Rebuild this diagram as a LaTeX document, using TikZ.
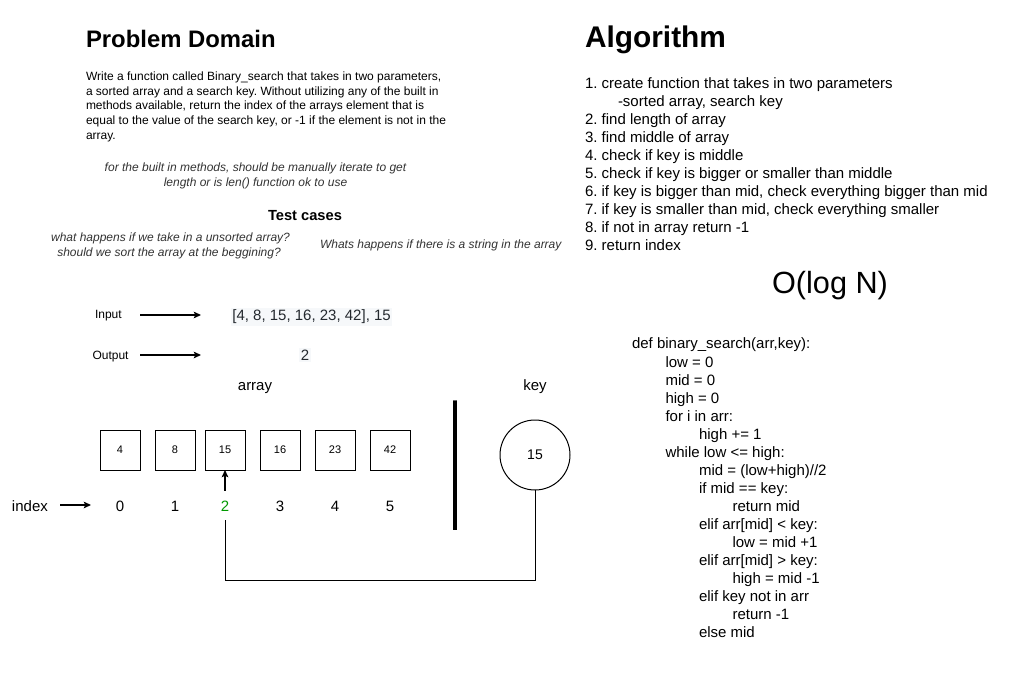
\documentclass[tikz,border=0pt]{standalone}
\usepackage{fontspec}
\setmainfont{Liberation Sans}
\usetikzlibrary{arrows.meta}
\frenchspacing
\definecolor{itx}{HTML}{333333}
\definecolor{codetx}{HTML}{24292E}
\definecolor{codebg}{HTML}{F6F8FA}
\definecolor{grn}{HTML}{009900}
\definecolor{baredge}{HTML}{666666}
\tikzset{
  tA/.style={font=\fontsize{8.25pt}{10pt}\selectfont},
  tB/.style={font=\fontsize{9pt}{11pt}\selectfont},
  tC/.style={font=\fontsize{10.5pt}{12.5pt}\selectfont},
  tD/.style={font=\fontsize{11.25pt}{13.5pt}\selectfont},
  itB/.style={font=\fontsize{9pt}{11pt}\selectfont\itshape, text=itx},
  hA/.style={font=\fontsize{17.9pt}{20pt}\selectfont\bfseries},
  hB/.style={font=\fontsize{22.4pt}{26pt}\selectfont\bfseries},
  hC/.style={font=\fontsize{11pt}{13pt}\selectfont\bfseries},
  big/.style={font=\fontsize{23pt}{27pt}\selectfont},
  lft/.style={anchor=base west},
  ctr/.style={anchor=base},
  cell/.style={draw, line width=0.75pt, minimum size=30pt, font=\fontsize{8.25pt}{10pt}\selectfont},
  keycirc/.style={draw, circle, line width=0.75pt, minimum size=52.5pt, font=\fontsize{10.5pt}{12.5pt}\selectfont},
  arr/.style={line width=0.9pt, -{Stealth[length=5.5pt,width=5pt,inset=1.2pt]}},
  wire/.style={line width=0.75pt},
}
\begin{document}
\begin{tikzpicture}[x=0.75pt,y=-0.75pt, every node/.style={inner sep=0pt, outer sep=0pt}]
\useasboundingbox[fill=white] (0,0) rectangle (1022,681);

% ---------- Problem domain ----------
\node[hA, lft] (pd) at (86,48) {Problem Domain};
\node[tB, lft] (p1) at (86,81) {Write a function called Binary\_search that takes in two parameters,};
\node[tB, lft] (p2) at (86,96) {a sorted array and a search key. Without utilizing any of the built in};
\node[tB, lft] (p3) at (86,110) {methods available, return the index of the arrays element that is};
\node[tB, lft] (p4) at (86,125) {equal to the value of the search key, or -1 if the element is not in the};
\node[tB, lft] (p5) at (86,140) {array.};

\node[itB, ctr] (q1) at (255.5,172) {for the built in methods, should be manually iterate to get};
\node[itB, ctr] (q2) at (255.5,187) {length or is len() function ok to use};

\node[hC, ctr] (tc) at (305,221) {Test cases};
\node[itB, ctr] (t1) at (170.5,242) {what happens if we take in a unsorted array?};
\node[itB, ctr] (t2) at (169,257) {should we sort the array at the beggining?};
\node[itB, lft] (t3) at (320,249) {Whats happens if there is a string in the array};

% ---------- Input / Output ----------
\node[tB, lft] (inp) at (95,319) {Input};
\node[tB, lft] (outp) at (92.5,359) {Output};
\coordinate (ia) at (140,315);
\coordinate (ib) at (201,315);
\coordinate (oa) at (140,355);
\coordinate (ob) at (201,355);
\draw[arr] (ia) -- (ib);
\draw[arr] (oa) -- (ob);
\node[tD, lft, text=codetx, fill=codebg, inner xsep=1pt, inner ysep=1.5pt] (inval) at (231,320.5) {[4, 8, 15, 16, 23, 42], 15};
\node[tD, ctr, text=codetx, fill=codebg, inner xsep=1pt, inner ysep=1.5pt] (outval) at (305,360) {2};

% ---------- Array ----------
\node[tD, ctr] (arrlbl) at (255,390) {array};
\node[tD, ctr] (keylbl) at (535,390) {key};

\node[cell] (b1) at (120,450) {4};
\node[cell] (b2) at (175,450) {8};
\node[cell] (b3) at (225,450) {15};
\node[cell] (b4) at (280,450) {16};
\node[cell] (b5) at (335,450) {23};
\node[cell] (b6) at (390,450) {42};

\node[tD, lft] (idx) at (12,511) {index};
\coordinate (xa) at (60,505);
\coordinate (xb) at (91,505);
\draw[arr] (xa) -- (xb);
\node[tD, ctr] (i0) at (120,511) {0};
\node[tD, ctr] (i1) at (175,511) {1};
\node[tD, ctr, text=grn] (i2) at (225,511) {2};
\node[tD, ctr] (i3) at (280,511) {3};
\node[tD, ctr] (i4) at (335,511) {4};
\node[tD, ctr] (i5) at (390,511) {5};

\draw[arr] ([yshift=7.5pt]i2.north) -- (b3.south);

% separator bar
\draw[line width=3.6pt, baredge] (455,400) -- (455,530);
\draw[line width=2.4pt, black] (455,400.5) -- (455,529.5);

\node[keycirc] (key) at (535,455) {15};
\coordinate (ret) at (225,520);
\coordinate (bend) at (535,580);
\draw[wire] (key.south) -- (bend) -| (ret);

% ---------- Algorithm ----------
\node[hB, lft] (alg) at (585,48) {Algorithm};
\node[tD, lft] (a1) at (585,89) {1. create function that takes in two parameters};
\node[tD, lft] (a1b) at (618,107) {-sorted array, search key};
\node[tD, lft] (a2) at (585,125) {2. find length of array};
\node[tD, lft] (a3) at (585,143) {3. find middle of array};
\node[tD, lft] (a4) at (585,161) {4. check if key is middle};
\node[tD, lft] (a5) at (585,179) {5. check if key is bigger or smaller than middle};
\node[tD, lft] (a6) at (585,197) {6. if key is bigger than mid, check everything bigger than mid};
\node[tD, lft] (a7) at (585,215) {7. if key is smaller than mid, check everything smaller};
\node[tD, lft] (a8) at (585,233) {8. if not in array return -1};
\node[tD, lft] (a9) at (585,251) {9. return index};

\node[big, ctr] (olog) at (830,294) {O(log N)};

% ---------- Code ----------
\node[tD, lft] (c1) at (632,349) {def binary\_search(arr,key):};
\node[tD, lft] (c2) at (665.5,367) {low = 0};
\node[tD, lft] (c3) at (665.5,385) {mid = 0};
\node[tD, lft] (c4) at (665.5,403) {high = 0};
\node[tD, lft] (c5) at (665.5,421) {for i in arr:};
\node[tD, lft] (c6) at (699,439) {high += 1};
\node[tD, lft] (c7) at (665.5,457) {while low <= high:};
\node[tD, lft] (c8) at (699,475) {mid = (low+high)//2};
\node[tD, lft] (c9) at (699,493) {if mid == key:};
\node[tD, lft] (c10) at (732.5,511) {return mid};
\node[tD, lft] (c11) at (699,529) {elif arr[mid] < key:};
\node[tD, lft] (c12) at (732.5,547) {low = mid +1};
\node[tD, lft] (c13) at (699,565) {elif arr[mid] > key:};
\node[tD, lft] (c14) at (732.5,583) {high = mid -1};
\node[tD, lft] (c15) at (699,601) {elif key not in arr};
\node[tD, lft] (c16) at (732.5,619) {return -1};
\node[tD, lft] (c17) at (699,637) {else mid};
\end{tikzpicture}
\end{document}
